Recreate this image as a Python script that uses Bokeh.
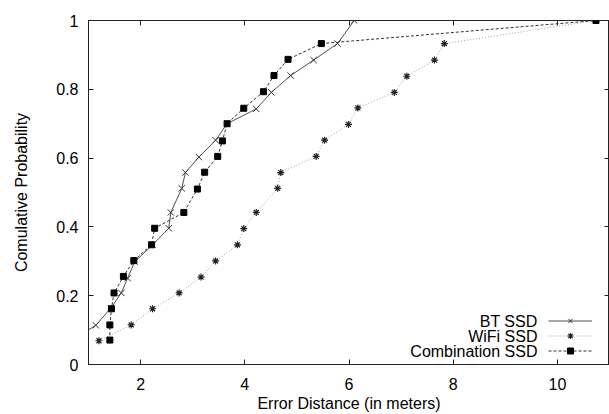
from bokeh.plotting import figure
from bokeh.models import (Range1d, FixedTicker, LinearAxis, Legend, LegendItem,
                          Label, CustomJSTickFormatter)
from bokeh.core.properties import value
from bokeh.embed import file_html
from bokeh.resources import INLINE

# ---- data ----
bt_x = [0.67, 1.14, 1.43, 1.63, 1.75, 1.89, 2.23, 2.54, 2.58, 2.79, 2.86, 3.12,
        3.44, 3.66, 4.22, 4.51, 4.88, 5.32, 5.78, 6.10]
bt_y = [0.07, 0.114, 0.164, 0.208, 0.251, 0.299, 0.348, 0.396, 0.442, 0.512,
        0.558, 0.603, 0.652, 0.700, 0.743, 0.791, 0.840, 0.885, 0.933, 1.0]

wifi_x = [1.20, 1.82, 2.23, 2.74, 3.16, 3.44, 3.86, 3.98, 4.22, 4.63, 4.69, 5.37,
          5.53, 5.99, 6.17, 6.87, 7.11, 7.64, 7.83, 10.74]
wifi_y = [0.069, 0.115, 0.162, 0.208, 0.254, 0.301, 0.348, 0.395, 0.442, 0.512,
          0.558, 0.605, 0.652, 0.698, 0.746, 0.791, 0.838, 0.885, 0.933, 1.0]

comb_x = [1.41, 1.41, 1.44, 1.49, 1.67, 1.87, 2.21, 2.27, 2.83, 3.09, 3.23, 3.48,
          3.57, 3.66, 3.98, 4.36, 4.56, 4.83, 5.47, 10.74]
comb_y = [0.071, 0.115, 0.162, 0.208, 0.256, 0.302, 0.348, 0.396, 0.442, 0.510,
          0.559, 0.605, 0.650, 0.700, 0.745, 0.793, 0.840, 0.887, 0.933, 1.0]

series_names = ["BT SSD", "WiFi SSD", "Combination SSD"]

x_ticks = [2, 4, 6, 8, 10]
x_tick_labels = ["2", "4", "6", "8", "10"]
y_ticks = [0, 0.2, 0.4, 0.6, 0.8, 1]
y_tick_labels = ["0", "0.2", "0.4", "0.6", "0.8", "1"]

FONT = "Liberation Sans"
FS = "16px"

p = figure(width=609, height=414, x_range=Range1d(1, 11), y_range=Range1d(0, 1),
           output_backend="svg", toolbar_location=None,
           min_border_left=88, min_border_right=0, min_border_top=20,
           min_border_bottom=0)
p.xgrid.visible = False
p.ygrid.visible = False
p.outline_line_color = "#222222"
p.outline_line_width = 1
p.background_fill_color = "white"
p.border_fill_color = "white"

# ---- series ----
bt_line = p.line(bt_x, bt_y, line_color="#505050", line_width=1)
bt_pts = p.scatter(bt_x, bt_y, marker="x", size=9, line_color="#333333", line_width=1)

wf_line = p.line(wifi_x, wifi_y, line_color="#a0a0a0", line_width=1, line_dash="1 2")
wf_pts = p.scatter(wifi_x, wifi_y, marker="asterisk", size=7, line_color="#222222",
                   line_width=1.2)

cb_line = p.line(comb_x, comb_y, line_color="#333333", line_width=1, line_dash="3 2")
cb_pts = p.scatter(comb_x, comb_y, marker="square", size=6, fill_color="black",
                   line_color="black")

# ---- axes ----
p.xaxis.ticker = FixedTicker(ticks=x_ticks)
p.xaxis.major_label_overrides = dict(zip(x_ticks, x_tick_labels))
p.yaxis.ticker = FixedTicker(ticks=y_ticks)
p.yaxis.major_label_overrides = dict(zip(y_ticks, y_tick_labels))
p.xaxis.axis_label = "Error Distance (in meters)"
p.yaxis.axis_label = "Comulative Probability"

for ax in (p.xaxis[0], p.yaxis[0]):
    ax.major_tick_in = 5
    ax.major_tick_out = 0
    ax.minor_tick_line_color = None
    ax.axis_line_color = "#222222"
    ax.major_tick_line_color = "#222222"
    ax.major_label_text_font = FONT
    ax.major_label_text_font_size = FS
    ax.major_label_text_color = "black"
    ax.axis_label_text_font = FONT
    ax.axis_label_text_font_size = FS
    ax.axis_label_text_font_style = "normal"
    ax.axis_label_text_color = "black"

p.xaxis.major_label_standoff = 13
p.xaxis.axis_label_standoff = 2
p.yaxis.major_label_standoff = 10
p.yaxis.axis_label_standoff = 23

# mirrored inward ticks on top and right
blank = CustomJSTickFormatter(code="return ''")
top = LinearAxis(ticker=FixedTicker(ticks=x_ticks), formatter=blank)
right = LinearAxis(ticker=FixedTicker(ticks=y_ticks), formatter=blank)
for ax in (top, right):
    ax.major_tick_in = 5
    ax.major_tick_out = 0
    ax.minor_tick_line_color = None
    ax.axis_line_color = None
    ax.major_tick_line_color = "#222222"
    ax.major_label_text_font_size = "0px"
    ax.major_label_standoff = 0
p.add_layout(top, "above")
p.add_layout(right, "right")

# ---- legend: text right-aligned, sample to the right (gnuplot style) ----
legend = Legend(items=[
    LegendItem(label=value(" "), renderers=[bt_line, bt_pts]),
    LegendItem(label=value(" "), renderers=[wf_line, wf_pts]),
    LegendItem(label=value(" "), renderers=[cb_line, cb_pts]),
], location=(460, 6), orientation="vertical", glyph_width=44, glyph_height=15,
    label_height=15, label_width=1, label_standoff=0, spacing=0, padding=0,
    margin=0, border_line_color=None, background_fill_alpha=0)
p.add_layout(legend)

for name, yy in zip(series_names, [43.5, 28.5, 13.5]):
    p.add_layout(Label(x=449, y=yy, x_units="screen", y_units="screen", text=name,
                       text_align="right", text_baseline="middle",
                       text_font=FONT, text_font_size=FS, text_color="black"))

open("out.html", "w").write(file_html(p, INLINE))
